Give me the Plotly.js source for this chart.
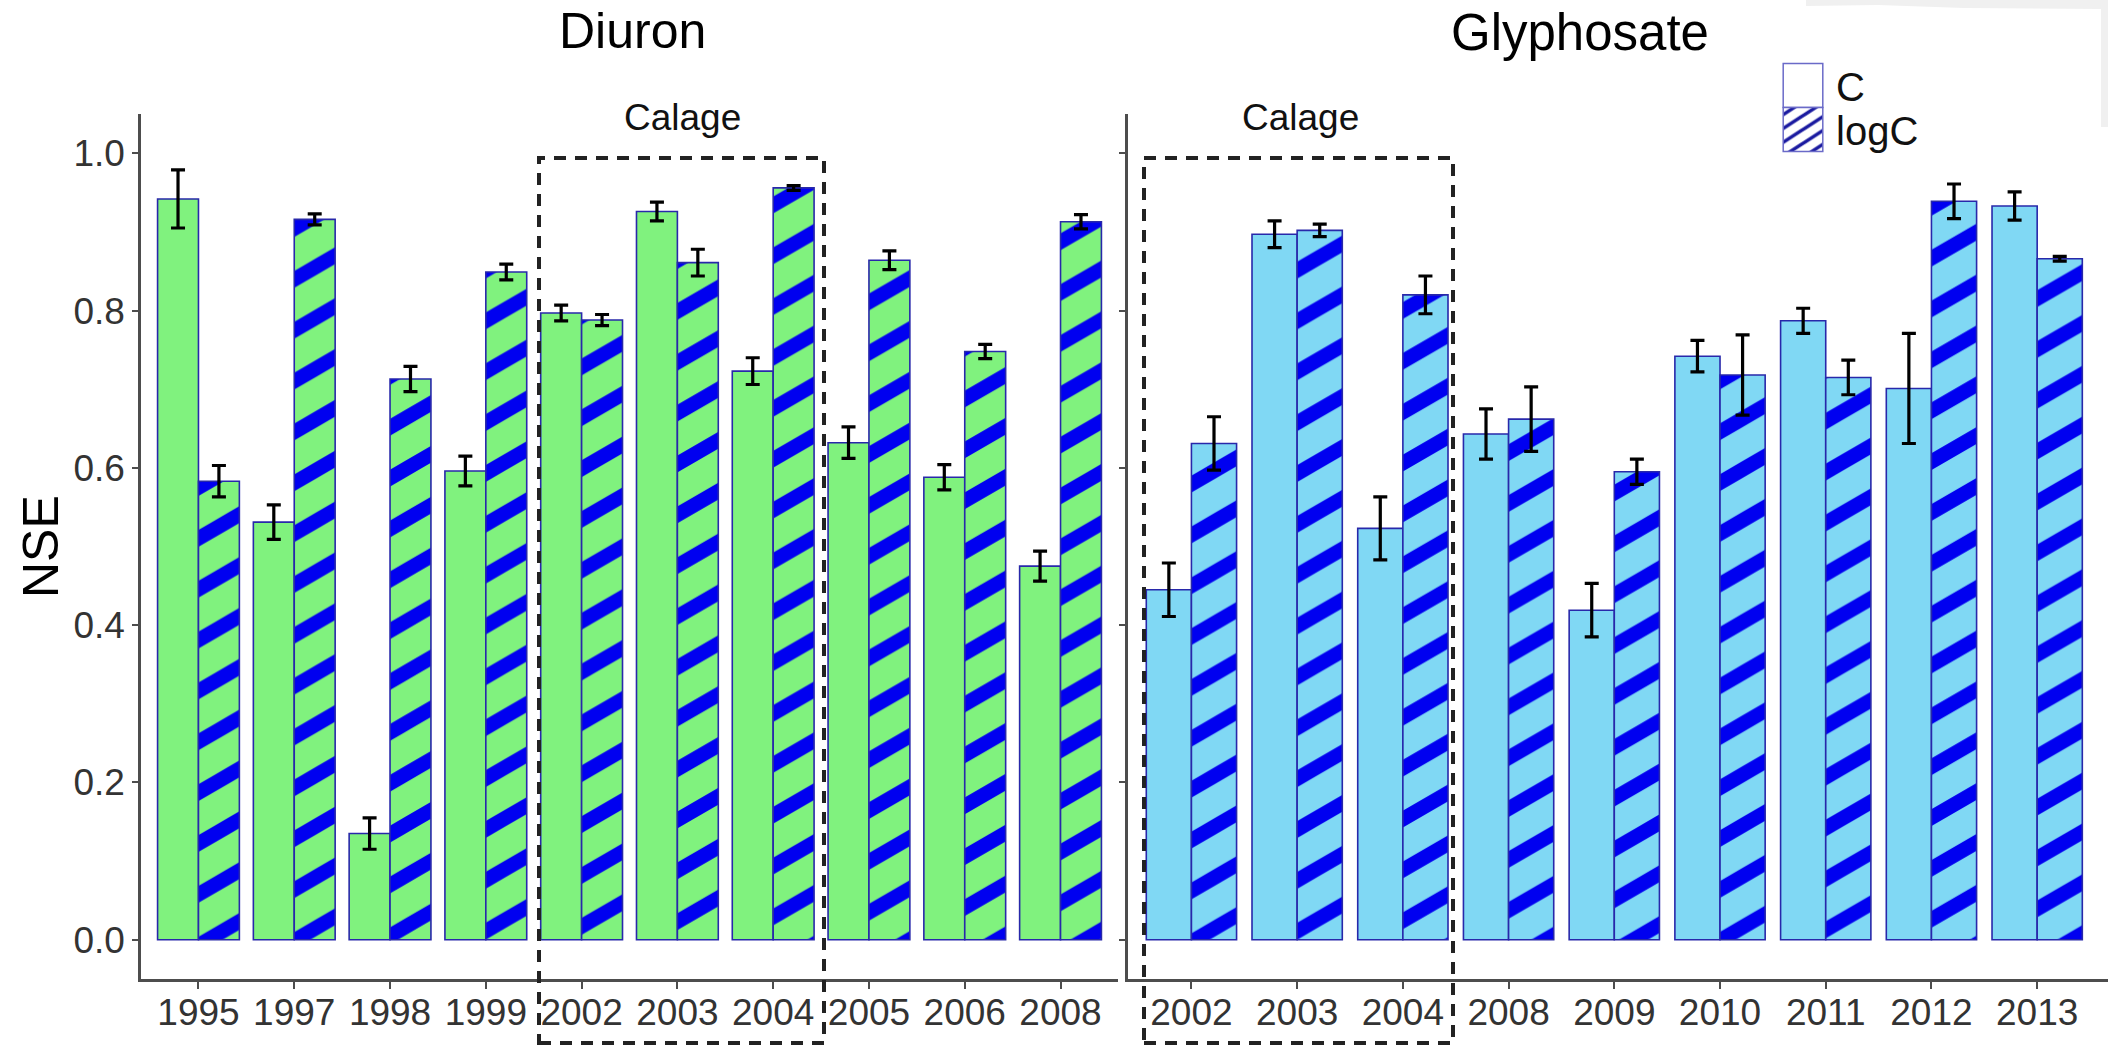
<!DOCTYPE html>
<html>
<head>
<meta charset="utf-8">
<script src="https://cdn.plot.ly/plotly-3.0.1.min.js"></script>
<style>
  html, body { margin: 0; padding: 0; background: #ffffff; }
  #chart { width: 2108px; height: 1048px; }
</style>
</head>
<body>
<div id="chart"></div>
<script>
// ---------------- data ----------------
const diuronYears = ['1995','1997','1998','1999','2002','2003','2004','2005','2006','2008'];
const diuronC      = [0.942, 0.531, 0.135, 0.596, 0.797, 0.926, 0.723, 0.632, 0.588, 0.475];
const diuronCErr   = [0.037, 0.022, 0.020, 0.019, 0.010, 0.012, 0.017, 0.020, 0.016, 0.019];
const diuronLogC   = [0.583, 0.916, 0.713, 0.849, 0.788, 0.861, 0.956, 0.864, 0.748, 0.913];
const diuronLogCErr= [0.020, 0.007, 0.016, 0.010, 0.007, 0.017, 0.003, 0.012, 0.009, 0.009];

const glyYears     = ['2002','2003','2004','2008','2009','2010','2011','2012','2013'];
const glyC         = [0.445, 0.897, 0.523, 0.643, 0.419, 0.742, 0.787, 0.701, 0.933];
const glyCErr      = [0.034, 0.017, 0.040, 0.032, 0.034, 0.020, 0.016, 0.070, 0.018];
const glyLogC      = [0.631, 0.902, 0.820, 0.662, 0.595, 0.718, 0.715, 0.939, 0.866];
const glyLogCErr   = [0.034, 0.008, 0.024, 0.041, 0.016, 0.051, 0.022, 0.022, 0.003];

const yTickVals  = [0, 0.2, 0.4, 0.6, 0.8, 1.0];
const yTickText  = ['0.0', '0.2', '0.4', '0.6', '0.8', '1.0'];
const seriesNames = ['C', 'logC'];
const panelTitles = ['Diuron', 'Glyphosate'];
const boxLabel = 'Calage';
const yTitle = 'NSE';

// ---------------- style ----------------
const W = 2108, H = 1048;
const FONT = '"Liberation Sans", Arial, Helvetica, sans-serif';
const GREEN = '#80f27e';
const SKY = '#80d8f4';
const STRIPE = '#0000f0';
const OUTLINE = 'rgb(40,40,170)';
const AXIS = '#4d4d4d';
const px = v => v / W;
const py = v => 1 - v / H;

const hatch = bg => ({ shape: '/', fgcolor: STRIPE, bgcolor: bg, size: 62, solidity: 0.33, fillmode: 'replace' });
const errBar = arr => ({ type: 'data', array: arr, visible: true, color: '#000000', thickness: 3.2, width: 7 });

const traces = [
  { type: 'bar', x: diuronYears, y: diuronC, name: 'Diuron C', xaxis: 'x', yaxis: 'y', offsetgroup: 'C',
    marker: { color: GREEN, line: { color: OUTLINE, width: 1.6 } }, error_y: errBar(diuronCErr), showlegend: false },
  { type: 'bar', x: diuronYears, y: diuronLogC, name: 'Diuron logC', xaxis: 'x', yaxis: 'y', offsetgroup: 'logC',
    marker: { color: GREEN, line: { color: OUTLINE, width: 1.6 }, pattern: hatch(GREEN) }, error_y: errBar(diuronLogCErr), showlegend: false },
  { type: 'bar', x: glyYears, y: glyC, name: 'Glyphosate C', xaxis: 'x2', yaxis: 'y2', offsetgroup: 'C',
    marker: { color: SKY, line: { color: OUTLINE, width: 1.6 } }, error_y: errBar(glyCErr), showlegend: false },
  { type: 'bar', x: glyYears, y: glyLogC, name: 'Glyphosate logC', xaxis: 'x2', yaxis: 'y2', offsetgroup: 'logC',
    marker: { color: SKY, line: { color: OUTLINE, width: 1.6 }, pattern: hatch(SKY) }, error_y: errBar(glyLogCErr), showlegend: false },
  // legend keys (no visible bar: value is null)
  { type: 'bar', x: [glyYears[0]], y: [null], name: seriesNames[0], xaxis: 'x2', yaxis: 'y2', offsetgroup: 'C',
    marker: { color: '#ffffff', line: { color: '#6a6ac8', width: 0.45 } }, showlegend: true },
  { type: 'bar', x: [glyYears[0]], y: [null], name: seriesNames[1], xaxis: 'x2', yaxis: 'y2', offsetgroup: 'logC',
    marker: { color: '#ffffff', line: { color: '#6a6ac8', width: 0.45 },
      pattern: { shape: '/', fgcolor: '#1a1aa0', bgcolor: '#ffffff', size: 4.6, solidity: 0.3, fillmode: 'replace' } }, showlegend: true }
];

const yDomain = [py(979), py(114)];
const xCommon = {
  type: 'category', showline: true, linecolor: AXIS, linewidth: 2.5, ticks: 'outside', ticklen: 7,
  tickwidth: 2, tickcolor: AXIS, showgrid: false, zeroline: false, fixedrange: true, ticklabelstandoff: -8,
  tickfont: { family: FONT, size: 37, color: '#333333' }
};
const yCommon = {
  range: [-0.05, 1.05], domain: yDomain, showline: true, linecolor: AXIS, linewidth: 2.5, ticks: 'outside',
  ticklen: 6, tickwidth: 2, tickcolor: AXIS, showgrid: false, zeroline: false, fixedrange: true,
  tickvals: yTickVals, ticktext: yTickText, tickfont: { family: FONT, size: 37, color: '#333333' }
};

const dashLine = { color: '#222222', width: 4, dash: '12px,9px' };

const layout = {
  width: W, height: H,
  margin: { l: 0, r: 0, t: 0, b: 0, pad: 0 },
  paper_bgcolor: '#ffffff', plot_bgcolor: 'rgba(0,0,0,0)',
  font: { family: FONT, color: '#000000' },
  barmode: 'group', bargap: 0.146, bargroupgap: 0,
  xaxis: Object.assign({}, xCommon, { domain: [px(141), px(1118)], range: [-0.6, 9.6], anchor: 'y' }),
  xaxis2: Object.assign({}, xCommon, { domain: [px(1128), 1], range: [-0.6, 8.67], anchor: 'y2' }),
  yaxis: Object.assign({}, yCommon, { anchor: 'x' }),
  yaxis2: Object.assign({}, yCommon, { anchor: 'x2', matches: 'y', showticklabels: false }),
  showlegend: true,
  legend: {
    x: px(1770), y: py(53), xanchor: 'left', yanchor: 'top', orientation: 'v',
    bgcolor: 'rgba(0,0,0,0)', borderwidth: 0, itemwidth: 56,
    font: { family: FONT, size: 40, color: '#111111' }, tracegroupgap: 0, itemclick: false, itemdoubleclick: false
  },
  annotations: [
    { text: panelTitles[0], xref: 'paper', yref: 'paper', x: px(632), y: py(31), xanchor: 'center', yanchor: 'middle',
      showarrow: false, font: { family: FONT, size: 50, color: '#000000' } },
    { text: panelTitles[1], xref: 'paper', yref: 'paper', x: px(1580), y: py(32), xanchor: 'center', yanchor: 'middle',
      showarrow: false, font: { family: FONT, size: 51, color: '#000000' } },
    { text: boxLabel, xref: 'paper', yref: 'paper', x: px(682), y: py(117), xanchor: 'center', yanchor: 'middle',
      showarrow: false, font: { family: FONT, size: 37, color: '#111111' } },
    { text: boxLabel, xref: 'paper', yref: 'paper', x: px(1300), y: py(117), xanchor: 'center', yanchor: 'middle',
      showarrow: false, font: { family: FONT, size: 37, color: '#111111' } },
    { text: yTitle, xref: 'paper', yref: 'paper', x: px(41), y: py(547), xanchor: 'center', yanchor: 'middle',
      textangle: -90, showarrow: false, font: { family: FONT, size: 50, color: '#000000' } }
  ],
  shapes: [
    // faint grey scan artefact in the top-right corner of the original image
    { type: 'path', xref: 'paper', yref: 'paper', layer: 'below', line: { width: 0 }, fillcolor: '#f0f0f0',
      path: 'M ' + px(1806) + ' ' + py(0) + ' L 1 ' + py(0) + ' L 1 ' + py(127) + ' L ' + px(2101) + ' ' + py(127) +
            ' L ' + px(2101) + ' ' + py(9) + ' L ' + px(1964) + ' ' + py(8) + ' L ' + px(1878) + ' ' + py(5) + ' L ' + px(1806) + ' ' + py(6) + ' Z' },
    { type: 'rect', xref: 'paper', yref: 'paper', x0: px(539), x1: px(824), y0: py(1043), y1: py(158),
      line: dashLine, fillcolor: 'rgba(0,0,0,0)', layer: 'above' },
    { type: 'rect', xref: 'paper', yref: 'paper', x0: px(1144), x1: px(1453), y0: py(1043), y1: py(158),
      line: dashLine, fillcolor: 'rgba(0,0,0,0)', layer: 'above' }
  ]
};

const gd = document.getElementById('chart');
Plotly.newPlot(gd, traces, layout, { displayModeBar: false }).then(() => {
  // flatten the hatch angle like the original figure
  gd.querySelectorAll('pattern').forEach(p => p.setAttribute('patternTransform', 'scale(1,0.58)'));
  // enlarge legend keys into tall stacked boxes
  const items = gd.querySelectorAll('.legend .traces');
  let y0 = null;
  items.forEach((g, i) => {
    const t = g.getAttribute('transform') || '';
    const m = t.match(/translate\(\s*([-\d.]+)[ ,]+([-\d.]+)\s*\)/);
    const tx = m ? parseFloat(m[1]) : 0;
    const ty = m ? parseFloat(m[2]) : 0;
    if (y0 === null) y0 = ty;
    g.setAttribute('transform', 'translate(' + tx + ',' + (y0 + i * 44) + ')');
    g.querySelectorAll('.legendpoints path').forEach(p => {
      const pt = p.getAttribute('transform') || '';
      p.setAttribute('transform', pt + ' scale(3.3,3.67)');
    });
  });
});
</script>
</body>
</html>
